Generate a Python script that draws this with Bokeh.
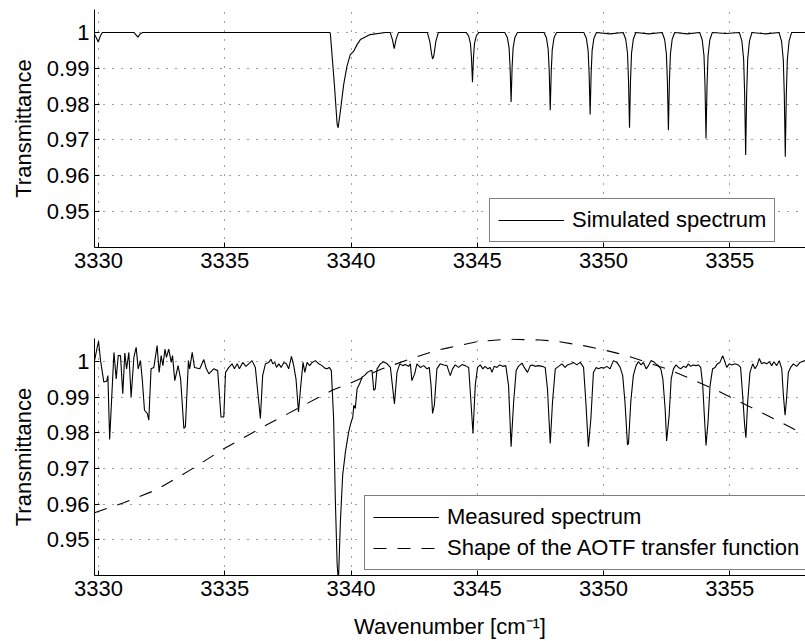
from bokeh.plotting import figure
from bokeh.models import Range1d, Legend, LegendItem, FixedTicker
from bokeh.layouts import column
from bokeh.embed import file_html
from bokeh.resources import INLINE

# ---------------- data ----------------
x_ticks = [3330, 3335, 3340, 3345, 3350, 3355]
y_ticks = [0.95, 0.96, 0.97, 0.98, 0.99, 1.0]
y_tick_labels = ["0.95", "0.96", "0.97", "0.98", "0.99", "1"]

sim_x = [3329.84, 3329.92, 3329.99, 3330.07, 3330.15, 3331.40, 3331.50, 3331.56, 3331.65, 3331.75,
         3339.15, 3339.18, 3339.34, 3339.45, 3339.49, 3339.58, 3339.71, 3339.84, 3339.97, 3340.10,
         3340.24, 3340.37, 3340.76, 3341.36, 3341.55, 3341.64, 3341.71, 3341.78, 3341.88,
         3343.02, 3343.12, 3343.19, 3343.23, 3343.28, 3343.36, 3343.46,
         3344.56, 3344.66, 3344.73, 3344.77, 3344.81, 3344.85, 3344.89, 3344.96, 3345.06,
         3346.09, 3346.19, 3346.26, 3346.30, 3346.34, 3346.38, 3346.42, 3346.49, 3346.59,
         3347.64, 3347.74, 3347.81, 3347.85, 3347.89, 3347.93, 3347.97, 3348.04, 3348.14,
         3349.22, 3349.32, 3349.39, 3349.43, 3349.47, 3349.51, 3349.55, 3349.62, 3349.72,
         3350.25,
         3350.78, 3350.88, 3350.95, 3350.99, 3351.03, 3351.07, 3351.11, 3351.18, 3351.28,
         3351.80,
         3352.32, 3352.42, 3352.49, 3352.53, 3352.57, 3352.61, 3352.65, 3352.72, 3352.82,
         3353.32,
         3353.81, 3353.91, 3353.98, 3354.02, 3354.06, 3354.10, 3354.14, 3354.21, 3354.31,
         3354.85,
         3355.38, 3355.48, 3355.55, 3355.59, 3355.63, 3355.67, 3355.71, 3355.78, 3355.88,
         3356.42,
         3356.95, 3357.05, 3357.12, 3357.16, 3357.20, 3357.24, 3357.28, 3357.35, 3357.45,
         3358.00]
sim_y = [0.9995, 0.9984, 0.9973, 0.9990, 1.0, 1.0, 0.9992, 0.9987, 0.9996, 1.0,
         1.0, 0.9998, 0.9855, 0.9744, 0.9734, 0.9781, 0.9855, 0.9906, 0.9938, 0.9947,
         0.9966, 0.9980, 0.9994, 1.0, 1.0, 0.9980, 0.9955, 0.9980, 1.0,
         1.0, 0.9975, 0.9940, 0.9926, 0.9935, 0.9975, 1.0,
         1.0, 0.9990, 0.9969, 0.9930, 0.9861, 0.9930, 0.9969, 0.9990, 1.0,
         1.0, 0.9986, 0.9957, 0.9903, 0.9806, 0.9903, 0.9957, 0.9986, 1.0,
         1.0, 0.9985, 0.9952, 0.9892, 0.9783, 0.9892, 0.9952, 0.9985, 1.0,
         1.0, 0.9984, 0.9950, 0.9886, 0.9771, 0.9886, 0.9950, 0.9984, 1.0,
         0.9996,
         1.0, 0.9981, 0.9942, 0.9867, 0.9734, 0.9867, 0.9942, 0.9981, 1.0,
         0.9996,
         1.0, 0.9981, 0.9940, 0.9864, 0.9727, 0.9864, 0.9940, 0.9981, 1.0,
         0.9996,
         1.0, 0.9979, 0.9935, 0.9852, 0.9704, 0.9852, 0.9935, 0.9979, 1.0,
         0.9997,
         1.0, 0.9976, 0.9925, 0.9829, 0.9658, 0.9829, 0.9925, 0.9976, 1.0,
         0.9996,
         1.0, 0.9976, 0.9924, 0.9827, 0.9653, 0.9827, 0.9924, 0.9976, 1.0,
         1.0]

meas_x = [3329.84, 3330.00, 3330.08, 3330.21, 3330.32, 3330.37, 3330.44, 3330.61, 3330.70, 3330.78,
          3330.87, 3330.96, 3331.04, 3331.11, 3331.20, 3331.29, 3331.40, 3331.49, 3331.57, 3331.66,
          3331.73, 3331.82, 3331.93, 3331.99, 3332.08, 3332.19, 3332.32, 3332.40, 3332.48, 3332.55,
          3332.63, 3332.69, 3332.78, 3332.88, 3332.93, 3333.02, 3333.15, 3333.25, 3333.38, 3333.44,
          3333.56, 3333.61, 3333.71, 3333.80, 3334.01, 3334.17, 3334.27, 3334.37, 3334.56, 3334.72,
          3334.85, 3334.96, 3335.03, 3335.16, 3335.29, 3335.38, 3335.49, 3335.58, 3335.71, 3335.84,
          3336.08, 3336.21, 3336.41, 3336.50, 3336.61,
          3336.74, 3336.83, 3336.90, 3336.98, 3337.05, 3337.14, 3337.23, 3337.34, 3337.44, 3337.53,
          3337.64, 3337.73, 3337.82, 3337.92, 3338.01, 3338.10, 3338.17, 3338.26, 3338.36, 3338.46,
          3338.59, 3338.72, 3338.85, 3338.96, 3339.05, 3339.14, 3339.22, 3339.31, 3339.38, 3339.45,
          3339.50, 3339.58, 3339.67, 3339.78, 3339.91, 3339.99, 3340.07, 3340.11, 3340.17, 3340.24,
          3340.34, 3340.44, 3340.53, 3340.63, 3340.77, 3340.83, 3340.90, 3340.96, 3341.03, 3341.16,
          3341.29, 3341.43, 3341.56, 3341.72, 3341.82, 3341.93, 3342.05, 3342.15, 3342.28, 3342.35,
          3342.41, 3342.52, 3342.61, 3342.74, 3342.88, 3343.01, 3343.10, 3343.17, 3343.23, 3343.30,
          3343.40,
          3343.53, 3343.67, 3343.80, 3343.93, 3344.02, 3344.13, 3344.26, 3344.39, 3344.52, 3344.66,
          3344.75, 3344.83, 3344.92, 3345.01, 3345.12, 3345.22, 3345.31, 3345.42, 3345.51, 3345.58,
          3345.67, 3345.78, 3345.88, 3346.01, 3346.13, 3346.24, 3346.34, 3346.44, 3346.54, 3346.63,
          3346.77, 3346.86, 3346.99, 3347.10, 3347.19, 3347.29, 3347.43, 3347.56, 3347.69, 3347.78,
          3347.89, 3347.98, 3348.09, 3348.22, 3348.35, 3348.48, 3348.57, 3348.71, 3348.81, 3348.94,
          3349.08, 3349.21, 3349.30, 3349.40, 3349.50, 3349.60, 3349.71, 3349.80, 3349.91, 3350.02,
          3350.13, 3350.26, 3350.39, 3350.53,
          3350.66, 3350.76, 3350.85, 3350.95, 3350.99, 3351.08, 3351.18, 3351.29, 3351.38, 3351.49,
          3351.58, 3351.69, 3351.78, 3351.88, 3351.98, 3352.08, 3352.17, 3352.27, 3352.35, 3352.44,
          3352.50, 3352.60, 3352.68, 3352.77, 3352.87, 3352.97, 3353.06, 3353.16, 3353.27, 3353.36,
          3353.45, 3353.56, 3353.66, 3353.76, 3353.85, 3353.93, 3354.00, 3354.06, 3354.14, 3354.22,
          3354.32, 3354.42, 3354.51, 3354.61, 3354.72, 3354.79, 3354.88, 3354.98, 3355.08, 3355.21,
          3355.34, 3355.43, 3355.51, 3355.59, 3355.64, 3355.71, 3355.80, 3355.91, 3356.00, 3356.09,
          3356.17, 3356.26, 3356.36, 3356.46, 3356.57, 3356.66, 3356.75, 3356.86, 3356.96, 3357.06,
          3357.12, 3357.19, 3357.25, 3357.32, 3357.41, 3357.52, 3357.65, 3357.78, 3357.98]
meas_y = [1.0002, 1.0057, 1.0002, 0.9942, 0.9944, 0.9960, 0.9781, 1.0025, 0.9951, 1.0016,
          1.0016, 0.9909, 1.0023, 0.9979, 1.0025, 0.9900, 1.0011, 1.0039, 0.9979, 1.0002,
          0.9951, 0.9863, 0.9854, 0.9835, 0.9979, 0.9983, 1.0044, 0.9969, 1.0016, 0.9988,
          1.0034, 1.0011, 1.0034, 0.9997, 1.0016, 0.9946, 0.9988, 0.9951, 0.9812, 0.9817,
          1.0002, 0.9979, 1.0025, 0.9983, 0.9979, 1.0005, 0.9979, 0.9965, 0.9979, 0.9974,
          0.9844, 0.9844, 0.9969, 0.9983, 0.9993, 0.9979, 0.9993, 0.9979, 0.9997, 0.9986,
          1.0002, 0.9983, 0.9840, 0.9960, 0.9993,
          0.9997, 1.0006, 0.9993, 0.9997, 0.9983, 0.9993, 0.9983, 0.9997, 0.9993, 0.9979,
          1.0014, 0.9988, 0.9951, 0.9858, 0.9932, 0.9997, 0.9969, 0.9997, 0.9988, 0.9997,
          1.0002, 0.9993, 0.9988, 0.9981, 0.9979, 0.9983, 0.9974, 0.9840, 0.9608, 0.9432,
          0.9380, 0.9553, 0.9682, 0.9747, 0.9803, 0.9826, 0.9844, 0.9877, 0.9868, 0.9923,
          0.9937, 0.9956, 0.9960, 0.9968, 0.9974, 0.9974, 0.9919, 0.9923, 0.9979, 0.9993,
          0.9999, 0.9993, 0.9983, 0.9881, 0.9969, 0.9993, 0.9988, 0.9991, 0.9986, 0.9993,
          0.9946, 0.9965, 0.9993, 0.9983, 0.9988, 0.9979, 0.9983, 0.9932, 0.9854, 0.9877,
          0.9979,
          0.9993, 0.9990, 0.9988, 0.9960, 0.9979, 0.9990, 0.9983, 0.9991, 0.9988, 0.9983,
          0.9886, 0.9798, 0.9932, 0.9983, 0.9990, 0.9979, 0.9986, 0.9979, 0.9983, 0.9969,
          0.9986, 0.9983, 0.9990, 0.9986, 0.9988, 0.9932, 0.9761, 0.9886, 0.9974, 0.9986,
          0.9995, 0.9983, 0.9969, 0.9988, 0.9990, 0.9986, 0.9988, 0.9986, 0.9983, 0.9923,
          0.9770, 0.9886, 0.9979, 0.9986, 0.9993, 0.9983, 0.9990, 0.9993, 0.9997, 0.9990,
          0.9997, 0.9983, 0.9886, 0.9761, 0.9840, 0.9969, 0.9983, 0.9979, 0.9983, 0.9981,
          0.9986, 0.9979, 1.0002, 0.9997,
          0.9983, 0.9960, 0.9886, 0.9766, 0.9770, 0.9886, 0.9960, 0.9988, 0.9999, 0.9990,
          0.9997, 0.9979, 0.9988, 1.0002, 0.9999, 0.9993, 0.9988, 0.9979, 0.9951, 0.9868,
          0.9777, 0.9849, 0.9951, 0.9979, 0.9990, 0.9983, 0.9979, 0.9986, 0.9983, 0.9993,
          0.9986, 0.9990, 0.9988, 0.9990, 0.9983, 0.9932, 0.9840, 0.9764, 0.9831, 0.9932,
          0.9979, 0.9983, 0.9993, 0.9997, 1.0016, 1.0002, 0.9983, 0.9993, 0.9990, 0.9993,
          0.9990, 0.9983, 0.9905, 0.9821, 0.9786, 0.9886, 0.9969, 0.9993, 0.9979, 0.9990,
          1.0008, 0.9993, 0.9997, 0.9993, 0.9999, 0.9988, 0.9999, 0.9988, 1.0002, 0.9979,
          0.9909, 0.9849, 0.9895, 0.9969, 0.9983, 0.9993, 0.9986, 0.9997, 1.0002]

aotf_x = [3329.84, 3331.00, 3332.32, 3333.64, 3334.96, 3336.61, 3339.25, 3339.91, 3341.23,
          3342.28, 3343.34, 3343.80, 3344.99, 3346.17, 3347.49, 3348.15, 3349.21, 3350.13,
          3350.53, 3351.05, 3352.50, 3353.29, 3354.48, 3355.01, 3356.33, 3357.25, 3357.98]
aotf_y = [0.9576, 0.9604, 0.9641, 0.9696, 0.9755, 0.9820, 0.9919, 0.9937, 0.9979,
          1.0005, 1.0030, 1.0037, 1.0055, 1.0062, 1.0060, 1.0056, 1.0044, 1.0030,
          1.0023, 1.0013, 0.9979, 0.9956, 0.9919, 0.9900, 0.9854, 0.9821, 0.9794]

FONT = "Liberation Sans"
FS = "22px"


def make_fig(height, top, bottom, xlabel=None):
    p = figure(width=805, height=height, output_backend="svg", toolbar_location=None,
               x_range=Range1d(3329.84, 3358.0), y_range=Range1d(0.94, 1.0064),
               min_border_left=94, min_border_right=0, min_border_top=top,
               min_border_bottom=bottom)
    p.outline_line_color = None
    p.background_fill_color = "white"
    p.border_fill_color = "white"
    p.xaxis.ticker = FixedTicker(ticks=x_ticks)
    p.yaxis.ticker = FixedTicker(ticks=y_ticks)
    p.yaxis.major_label_overrides = dict(zip(y_ticks, y_tick_labels))
    for ax in (p.xaxis, p.yaxis):
        ax.axis_line_color = "black"
        ax.axis_line_width = 1
        ax.major_tick_line_color = "black"
        ax.major_tick_in = 5
        ax.major_tick_out = 0
        ax.minor_tick_line_color = None
        ax.major_label_text_font = FONT
        ax.major_label_text_font_size = FS
        ax.major_label_text_color = "black"
        ax.major_label_standoff = 5
        ax.axis_label_text_font = FONT
        ax.axis_label_text_font_size = FS
        ax.axis_label_text_font_style = "normal"
        ax.axis_label_text_color = "black"
    p.yaxis.axis_label = "Transmittance"
    p.yaxis.axis_label_standoff = 8
    if xlabel:
        p.xaxis.axis_label = xlabel
        p.xaxis.axis_label_standoff = 15
    for g in (p.xgrid, p.ygrid):
        g.grid_line_color = "black"
        g.grid_line_alpha = 0.75
        g.grid_line_dash = "1 8"
        g.grid_line_width = 1
    return p


def style_legend(leg):
    leg.label_text_font = FONT
    leg.label_text_font_size = FS
    leg.label_text_color = "black"
    leg.label_height = 24
    leg.glyph_height = 24
    leg.glyph_width = 66
    leg.label_standoff = 8
    leg.padding = 8
    leg.spacing = 5
    leg.margin = 0
    leg.border_line_color = "black"
    leg.border_line_width = 1
    leg.background_fill_color = "white"
    leg.background_fill_alpha = 1.0


# top panel
p1 = make_fig(308, 9, 61)
r_sim = p1.line(sim_x, sim_y, line_color="black", line_width=1.1)
leg1 = Legend(items=[LegendItem(label="Simulated spectrum", renderers=[r_sim])],
              location=(395, 5))
style_legend(leg1)
p1.add_layout(leg1)

# bottom panel
p2 = make_fig(333, 30, 65, xlabel="Wavenumber [cm\u207b\u00b9]")
r_meas = p2.line(meas_x, meas_y, line_color="black", line_width=1.1)
r_aotf = p2.line(aotf_x, aotf_y, line_color="black", line_width=1.1, line_dash="13 11")
leg2 = Legend(items=[LegendItem(label="Measured spectrum", renderers=[r_meas]),
                     LegendItem(label="Shape of the AOTF transfer function", renderers=[r_aotf])],
              location=(270, 5))
style_legend(leg2)
p2.add_layout(leg2)

layout = column(p1, p2, spacing=0)
open("out.html", "w").write(file_html(layout, INLINE, title="Spectra"))
